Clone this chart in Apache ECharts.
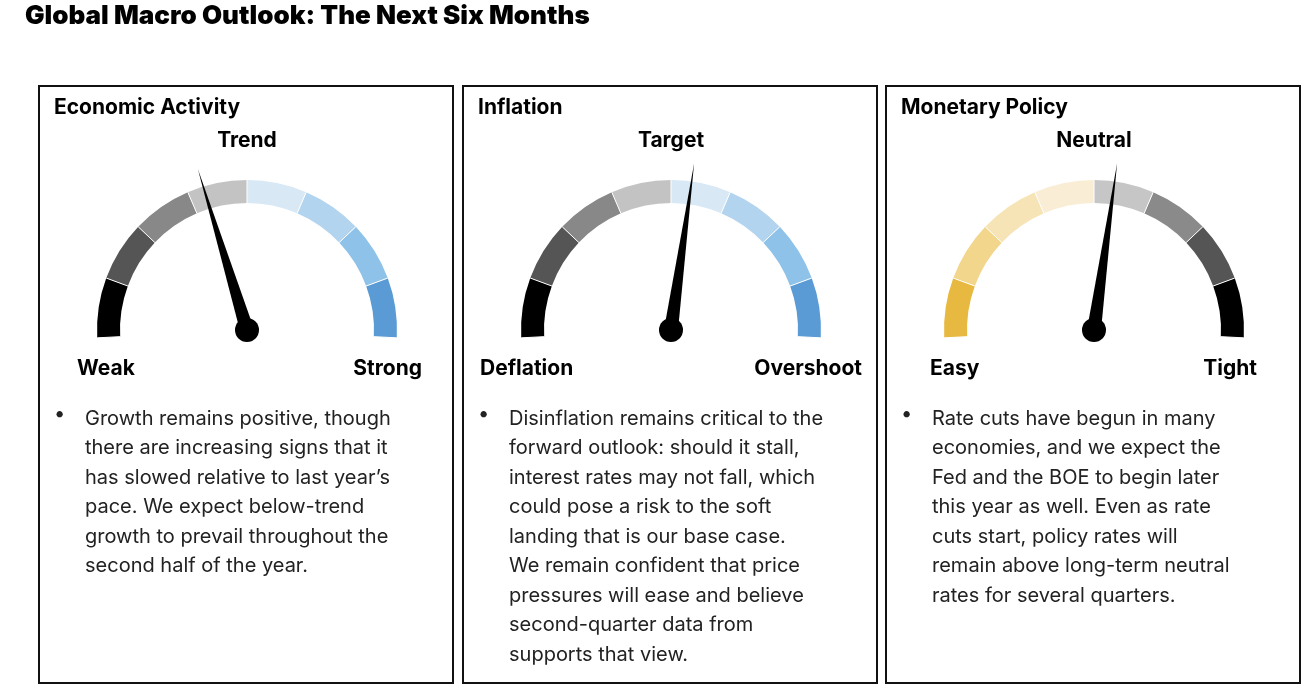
<!DOCTYPE html>
<html>
<head>
<meta charset="UTF-8" />
<style>
  body { margin: 0; background: #fff; }
  #container { width: 1311px; height: 687px; }
</style>
</head>
<body>
<div id="container"></div>
<script src="https://cdn.jsdelivr.net/npm/echarts@6/dist/echarts.min.js"></script>
<script>
  var chart = echarts.init(document.getElementById("container"));

  // 面板数据
  const panelTitles = ["Economic Activity", "Inflation", "Monetary Policy"];
  const midLabels = ["Trend", "Target", "Neutral"];
  const leftLabels = ["Weak", "Deflation", "Easy"];
  const rightLabels = ["Strong", "Overshoot", "Tight"];
  const needleValues = [3.27, 4.34, 4.34];
  const bandColors = [
    ["#000000", "#555555", "#888888", "#c3c3c3", "#d8e8f5", "#b3d4ef", "#8fc2e8", "#5b9bd5"],
    ["#000000", "#555555", "#888888", "#c3c3c3", "#d8e8f5", "#b3d4ef", "#8fc2e8", "#5b9bd5"],
    ["#e8b940", "#f2d68b", "#f6e4b6", "#f9eed5", "#c6c6c6", "#8a8a8a", "#555555", "#000000"],
  ];
  const bulletLines = [
    ["Growth remains positive, though", "there are increasing signs that it",
     "has slowed relative to last year’s", "pace. We expect below-trend",
     "growth to prevail throughout the", "second half of the year."],
    ["Disinflation remains critical to the", "forward outlook: should it stall,",
     "interest rates may not fall, which", "could pose a risk to the soft",
     "landing that is our base case.", "We remain confident that price",
     "pressures will ease and believe", "second-quarter data from", "supports that view."],
    ["Rate cuts have begun in many", "economies, and we expect the",
     "Fed and the BOE to begin later", "this year as well. Even as rate",
     "cuts start, policy rates will", "remain above long-term neutral",
     "rates for several quarters."],
  ];

  const panelX = [39, 463, 886];
  const panelW = 414;
  // 端点标签的位置（相对面板）
  const leftOffset = [38, 17, 44];
  const rightOffset = [383, 399, 371];
  const font = "Inter, 'Noto Sans', sans-serif";

  const graphics = [
    { type: "text", left: 25, top: 3,
      style: { text: "Global Macro Outlook: The Next Six Months", font: "900 26px " + font, fill: "#000" } },
  ];
  const series = [];

  panelX.forEach((x, i) => {
    const cx = x + 208;
    graphics.push({ type: "rect", shape: { x: x, y: 86, width: panelW, height: 597 },
      style: { fill: "none", stroke: "#111", lineWidth: 2 } });
    graphics.push({ type: "text", x: x + 15, y: 97,
      style: { text: panelTitles[i], font: "bold 21px " + font, fill: "#000" } });
    graphics.push({ type: "text", x: cx, y: 130,
      style: { text: midLabels[i], font: "bold 21px " + font, fill: "#000", align: "center" } });
    graphics.push({ type: "text", x: x + leftOffset[i], y: 358,
      style: { text: leftLabels[i], font: "bold 21px " + font, fill: "#000" } });
    graphics.push({ type: "text", x: x + rightOffset[i], y: 358,
      style: { text: rightLabels[i], font: "bold 21px " + font, fill: "#000", align: "right" } });
    graphics.push({ type: "text", x: x + 15, y: 404,
      style: { text: "•", font: "20px " + font, fill: "#222" } });
    graphics.push({ type: "text", x: x + 46, y: 404,
      style: { text: bulletLines[i].join("\n"), font: "20px " + font, lineHeight: 29.5, fill: "#222" } });

    const stops = bandColors[i].map((c, k) => [(k + 1) / 8, c]);
    series.push({
      type: "gauge",
      center: [cx, 330],
      radius: 150,
      startAngle: 183,
      endAngle: -3,
      min: 0,
      max: 8,
      splitNumber: 8,
      axisLine: { lineStyle: { width: 23, color: stops } },
      splitLine: { show: true, distance: -23, length: 23, lineStyle: { color: "#fff", width: 1 } },
      axisTick: { show: false },
      axisLabel: { show: false },
      pointer: {
        icon: "path://M0,0 L7,100 L-7,100 Z",
        length: "112%",
        width: 14,
        offsetCenter: [0, 0],
        itemStyle: { color: "#000" },
      },
      anchor: { show: true, size: 24, showAbove: true, itemStyle: { color: "#000" } },
      title: { show: false },
      detail: { show: false },
      animation: false,
      data: [{ value: needleValues[i] }],
    });
  });

  chart.setOption({ graphic: graphics, series: series });
</script>
</body>
</html>
